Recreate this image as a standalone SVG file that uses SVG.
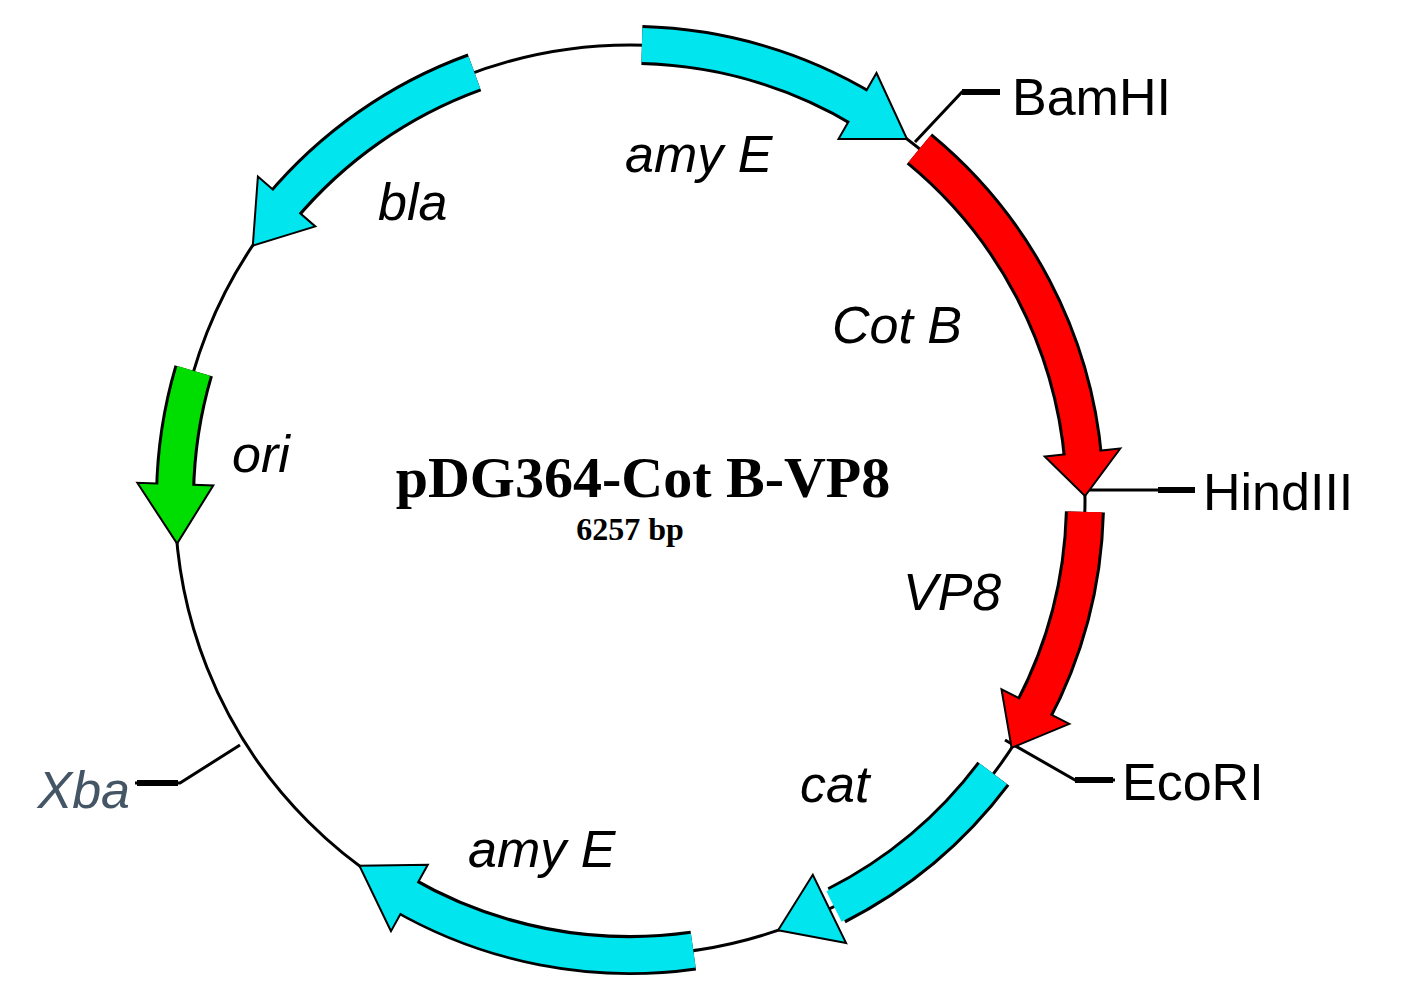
<svg xmlns="http://www.w3.org/2000/svg" width="1413" height="1000" viewBox="0 0 1413 1000">
<style>
.lbl{font-family:"Liberation Sans",Arial,sans-serif;font-style:italic;font-size:52px;fill:#000}
.site{font-family:"Liberation Sans",Arial,sans-serif;font-size:52px;fill:#000}
.ob{fill:none;stroke:#000;stroke-width:40}
.head{stroke:#000;stroke-width:2;stroke-linejoin:miter}
.cy{fill:#00e5ee}.rd{fill:#ff0000}.gr{fill:#00dd00}
.tick{fill:none;stroke:#000;stroke-width:3}
.stub{stroke:#000;stroke-width:6}
</style>
<rect width="1413" height="1000" fill="#fff"/>
<circle cx="630" cy="500" r="455" fill="none" stroke="#000" stroke-width="3"/>
<g id="connectors">
<polyline class="tick" points="915,142 962,92 1000,92"/><line class="stub" x1="962" y1="92" x2="1000" y2="92"/>
<polyline class="tick" points="1082,490 1160,490"/><line class="stub" x1="1158" y1="490" x2="1195" y2="490"/>
<polyline class="tick" points="1005,740 1075,780 1115,780"/><line class="stub" x1="1075" y1="780" x2="1113" y2="780"/>
<polyline class="tick" points="240,745 180,783 135,783"/><line class="stub" x1="178" y1="783" x2="137" y2="783"/>
</g>
<g id="amyE_top">
<path class="ob" d="M641.9,45.1 A455,455 0 0 1 864.3,110"/>
<polygon class="head cy" points="876.5,73 907,139 838.5,138.9"/>
<path d="M641.9,45.1 A455,455 0 0 1 866,111" fill="none" stroke="#00e5ee" stroke-width="34"/>
</g>
<g id="cotB">
<path class="ob" d="M919.4,148.9 A455,455 0 0 1 1083.3,460.3"/>
<polygon class="head rd" points="1120.3,448.5 1085,496 1044.7,456.4"/>
<path d="M919.4,148.9 A455,455 0 0 1 1083.6,463" fill="none" stroke="#ff0000" stroke-width="34"/>
</g>
<g id="vp8">
<path class="ob" d="M1084.9,511.9 A455,455 0 0 1 1031.7,713.6"/>
<polygon class="head rd" points="1069.3,723.8 1011.6,747.8 1001.5,689.3"/>
<path d="M1084.9,511.9 A455,455 0 0 1 1030.5,716" fill="none" stroke="#ff0000" stroke-width="34"/>
</g>
<g id="cat">
<path class="ob" d="M993.4,773.8 A455,455 0 0 1 836.6,905.4"/>
<polygon class="head cy" points="846.1,943.1 778.1,930.2 812.8,874.8"/>
<path d="M993.4,773.8 A455,455 0 0 1 834,906.5" fill="none" stroke="#00e5ee" stroke-width="34"/>
</g>
<g id="amyE_bottom">
<path class="ob" d="M693.3,950.6 A455,455 0 0 1 402.5,894"/>
<polygon class="head cy" points="391,931.2 359.4,865.8 427.8,864.7"/>
<path d="M693.3,950.6 A455,455 0 0 1 400,893" fill="none" stroke="#00e5ee" stroke-width="34"/>
</g>
<g id="ori">
<path class="ob" d="M193.7,370.8 A455,455 0 0 0 175.1,492"/>
<polygon class="head gr" points="137.3,482.8 177.1,543.6 213.3,485.4"/>
<path d="M193.7,370.8 A455,455 0 0 0 175,494" fill="none" stroke="#00dd00" stroke-width="34"/>
</g>
<g id="bla">
<path class="ob" d="M474.4,72.4 A455,455 0 0 0 281.5,207.5"/>
<polygon class="head cy" points="257.9,176.5 252.8,245.6 315.3,226.4"/>
<path d="M474.4,72.4 A455,455 0 0 0 280,209" fill="none" stroke="#00e5ee" stroke-width="34"/>
</g>
<g id="labels">
<text class="lbl" x="625" y="172">amy E</text>
<text class="lbl" x="378" y="220">bla</text>
<text class="lbl" x="832" y="343">Cot B</text>
<text class="lbl" x="232" y="472">ori</text>
<text class="lbl" x="903" y="610">VP8</text>
<text class="lbl" x="800" y="802">cat</text>
<text class="lbl" x="468" y="867">amy E</text>
<text class="lbl" x="130" y="808" text-anchor="end" style="fill:#445566">Xba</text>
<text class="site" x="1012" y="115">BamHI</text>
<text class="site" x="1203" y="510">HindIII</text>
<text class="site" x="1122" y="800">EcoRI</text>
<text x="643" y="497" text-anchor="middle" font-family="Liberation Serif,serif" font-weight="bold" font-size="58">pDG364-Cot B-VP8</text>
<text x="630" y="540" text-anchor="middle" font-family="Liberation Serif,serif" font-weight="bold" font-size="32">6257 bp</text>
</g>
</svg>
